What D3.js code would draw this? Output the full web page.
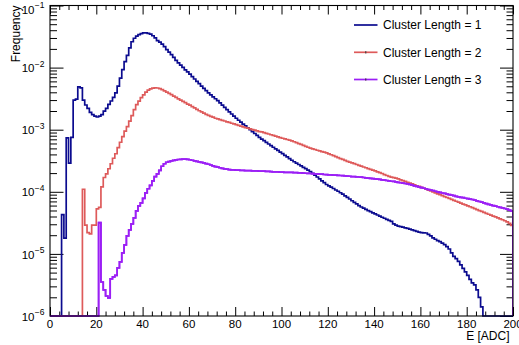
<!DOCTYPE html>
<html><head><meta charset="utf-8">
<script src="https://cdn.jsdelivr.net/npm/d3@7"></script>
<style>body{margin:0;background:#fff}svg text{font-family:"Liberation Sans",Arial,Helvetica,sans-serif;fill:#000}</style>
</head><body><svg id="c" width="519" height="345"></svg>
<script>
// ---- data (bin width 1 ADC, bins 0..199) ----
const binLowEdges = d3.range(0, 200);
const seriesNames = ["Cluster Length = 1", "Cluster Length = 2", "Cluster Length = 3"];
const seriesColors = ["#0b0b8f", "#de5a5a", "#9b1ff5"];
const cl1 = [0,0,0,0,0,4.3e-5,1.8e-5,7.4e-4,2.9e-4,7.5e-4,
3.0e-3,3.1e-3,4.9e-3,4.7e-3,3.0e-3,2.5e-3,2.2e-3,1.9e-3,1.75e-3,1.65e-3,
1.6e-3,1.65e-3,1.75e-3,1.99e-3,2.21e-3,2.55e-3,2.90e-3,3.32e-3,3.92e-3,5.03e-3,
6.78e-3,9.25e-3,1.25e-2,1.57e-2,2.08e-2,2.61e-2,2.97e-2,3.21e-2,3.40e-2,3.53e-2,
3.63e-2,3.63e-2,3.57e-2,3.46e-2,3.26e-2,3.01e-2,2.72e-2,2.58e-2,2.38e-2,2.18e-2,
1.95e-2,1.77e-2,1.62e-2,1.46e-2,1.31e-2,1.19e-2,1.10e-2,1.01e-2,9.22e-3,8.53e-3,
7.83e-3,7.16e-3,6.55e-3,6.01e-3,5.52e-3,5.05e-3,4.64e-3,4.26e-3,3.91e-3,3.64e-3,
3.38e-3,3.15e-3,2.94e-3,2.70e-3,2.48e-3,2.28e-3,2.10e-3,1.94e-3,1.79e-3,1.66e-3,
1.53e-3,1.42e-3,1.32e-3,1.23e-3,1.15e-3,1.07e-3,1.00e-3,9.31e-4,8.69e-4,8.09e-4,
7.54e-4,7.05e-4,6.65e-4,6.27e-4,5.88e-4,5.54e-4,5.22e-4,4.92e-4,4.64e-4,4.37e-4,
4.12e-4,3.86e-4,3.64e-4,3.42e-4,3.22e-4,3.05e-4,2.89e-4,2.75e-4,2.62e-4,2.48e-4,
2.36e-4,2.24e-4,2.12e-4,1.98e-4,1.85e-4,1.73e-4,1.61e-4,1.50e-4,1.41e-4,1.31e-4,
1.25e-4,1.19e-4,1.13e-4,1.07e-4,1.02e-4,9.66e-5,9.18e-5,8.61e-5,8.12e-5,7.66e-5,
7.18e-5,6.77e-5,6.39e-5,5.99e-5,5.69e-5,5.46e-5,5.22e-5,4.99e-5,4.80e-5,4.58e-5,
4.40e-5,4.23e-5,4.06e-5,3.89e-5,3.75e-5,3.60e-5,3.46e-5,3.33e-5,3.05e-5,2.90e-5,
2.81e-5,2.75e-5,2.69e-5,2.63e-5,2.57e-5,2.51e-5,2.44e-5,2.37e-5,2.31e-5,2.24e-5,
2.20e-5,2.18e-5,2.17e-5,2.06e-5,1.95e-5,1.81e-5,1.72e-5,1.64e-5,1.58e-5,1.49e-5,
1.41e-5,1.31e-5,1.20e-5,1.04e-5,9.12e-6,8.37e-6,7.57e-6,6.65e-6,5.84e-6,5.13e-6,
4.50e-6,3.88e-6,3.41e-6,3.16e-6,2.63e-6,1.99e-6,1.40e-6,0,0,0,
0,0,0,0,0,0,0,0,0,0];
const cl2 = [0,0,0,0,0,0,0,0,0,0,
0,0,0,0,1.1e-4,2.9e-5,2.2e-5,2.1e-5,2.9e-5,2.9e-5,
5.3e-5,5.6e-5,1.2e-4,1.7e-4,1.95e-4,2.35e-4,2.83e-4,3.47e-4,4.10e-4,5.13e-4,
6.28e-4,7.71e-4,9.46e-4,1.12e-3,1.37e-3,1.68e-3,2.10e-3,2.53e-3,2.88e-3,3.28e-3,
3.63e-3,4.03e-3,4.34e-3,4.55e-3,4.67e-3,4.72e-3,4.69e-3,4.60e-3,4.42e-3,4.21e-3,
4.03e-3,3.84e-3,3.66e-3,3.48e-3,3.31e-3,3.14e-3,2.99e-3,2.85e-3,2.72e-3,2.59e-3,
2.48e-3,2.35e-3,2.24e-3,2.12e-3,2.02e-3,1.94e-3,1.85e-3,1.77e-3,1.70e-3,1.64e-3,
1.59e-3,1.53e-3,1.49e-3,1.45e-3,1.41e-3,1.38e-3,1.34e-3,1.31e-3,1.27e-3,1.24e-3,
1.21e-3,1.17e-3,1.14e-3,1.11e-3,1.08e-3,1.06e-3,1.03e-3,1.00e-3,9.82e-4,9.57e-4,
9.31e-4,9.22e-4,8.98e-4,8.75e-4,8.53e-4,8.30e-4,8.12e-4,7.88e-4,7.68e-4,7.48e-4,
7.29e-4,7.11e-4,6.95e-4,6.78e-4,6.60e-4,6.40e-4,6.19e-4,5.98e-4,5.79e-4,5.60e-4,
5.40e-4,5.22e-4,5.05e-4,4.92e-4,4.80e-4,4.67e-4,4.55e-4,4.43e-4,4.34e-4,4.23e-4,
4.08e-4,3.95e-4,3.82e-4,3.68e-4,3.56e-4,3.43e-4,3.32e-4,3.21e-4,3.10e-4,3.01e-4,
2.92e-4,2.84e-4,2.75e-4,2.67e-4,2.59e-4,2.51e-4,2.44e-4,2.37e-4,2.30e-4,2.24e-4,
2.17e-4,2.10e-4,2.03e-4,1.97e-4,1.89e-4,1.83e-4,1.77e-4,1.72e-4,1.69e-4,1.66e-4,
1.61e-4,1.56e-4,1.51e-4,1.47e-4,1.42e-4,1.38e-4,1.34e-4,1.29e-4,1.25e-4,1.22e-4,
1.18e-4,1.14e-4,1.10e-4,1.06e-4,1.03e-4,9.93e-5,9.60e-5,9.29e-5,8.98e-5,8.65e-5,
8.37e-5,8.09e-5,7.83e-5,7.54e-5,7.29e-5,7.05e-5,6.82e-5,6.59e-5,6.35e-5,6.15e-5,
5.94e-5,5.75e-5,5.55e-5,5.36e-5,5.16e-5,4.99e-5,4.83e-5,4.67e-5,4.50e-5,4.35e-5,
4.21e-5,4.07e-5,3.94e-5,3.79e-5,3.67e-5,3.55e-5,3.42e-5,3.28e-5,3.10e-5,2.88e-5];
const cl3 = [0,0,0,0,0,0,0,0,0,0,
0,0,0,0,0,0,0,0,0,0,
0,3.2e-5,3.53e-6,2.63e-6,2.10e-6,1.95e-6,3.95e-6,4.26e-6,4.50e-6,5.94e-6,
7.43e-6,1.04e-5,1.40e-5,1.95e-5,2.44e-5,3.05e-5,3.81e-5,4.94e-5,5.94e-5,6.65e-5,
7.86e-5,9.64e-5,1.12e-4,1.27e-4,1.50e-4,1.75e-4,1.95e-4,2.22e-4,2.58e-4,2.83e-4,
2.99e-4,3.07e-4,3.14e-4,3.21e-4,3.27e-4,3.31e-4,3.33e-4,3.36e-4,3.36e-4,3.33e-4,
3.28e-4,3.22e-4,3.15e-4,3.09e-4,3.03e-4,2.98e-4,2.92e-4,2.85e-4,2.78e-4,2.70e-4,
2.62e-4,2.55e-4,2.49e-4,2.44e-4,2.38e-4,2.34e-4,2.31e-4,2.28e-4,2.26e-4,2.25e-4,
2.24e-4,2.23e-4,2.22e-4,2.21e-4,2.20e-4,2.20e-4,2.19e-4,2.18e-4,2.17e-4,2.17e-4,
2.16e-4,2.15e-4,2.15e-4,2.13e-4,2.13e-4,2.12e-4,2.10e-4,2.09e-4,2.09e-4,2.08e-4,
2.07e-4,2.06e-4,2.06e-4,2.05e-4,2.05e-4,2.04e-4,2.03e-4,2.02e-4,2.01e-4,2.00e-4,
1.99e-4,1.98e-4,1.97e-4,1.96e-4,1.95e-4,1.94e-4,1.93e-4,1.92e-4,1.90e-4,1.89e-4,
1.88e-4,1.87e-4,1.86e-4,1.85e-4,1.84e-4,1.83e-4,1.82e-4,1.80e-4,1.79e-4,1.78e-4,
1.76e-4,1.76e-4,1.74e-4,1.73e-4,1.72e-4,1.70e-4,1.68e-4,1.66e-4,1.65e-4,1.63e-4,
1.61e-4,1.60e-4,1.58e-4,1.56e-4,1.54e-4,1.52e-4,1.50e-4,1.48e-4,1.47e-4,1.45e-4,
1.42e-4,1.40e-4,1.38e-4,1.36e-4,1.34e-4,1.31e-4,1.28e-4,1.25e-4,1.22e-4,1.19e-4,
1.17e-4,1.14e-4,1.12e-4,1.09e-4,1.07e-4,1.05e-4,1.02e-4,1.00e-4,9.78e-5,9.57e-5,
9.40e-5,9.18e-5,9.01e-5,8.81e-5,8.65e-5,8.45e-5,8.30e-5,8.15e-5,8.03e-5,7.88e-5,
7.76e-5,7.62e-5,7.51e-5,7.35e-5,7.16e-5,6.98e-5,6.80e-5,6.62e-5,6.46e-5,6.28e-5,
6.15e-5,6.01e-5,5.88e-5,5.75e-5,5.62e-5,5.50e-5,5.38e-5,5.26e-5,5.07e-5,4.89e-5];
const xTickLabels = [0,20,40,60,80,100,120,140,160,180,200];
const yTickExponents = [-6,-5,-4,-3,-2,-1];
const xTitle = "E [ADC]";
const yTitle = "Frequency";

// ---- layout ----
const F = {l:50, r:513, t:5.5, b:316};
const svg = d3.select("#c");
const x = d3.scaleLinear().domain([0,200]).range([F.l, F.r]);
const y = d3.scaleLog().domain([1e-6, 1e-1]).range([F.b, F.t]);

const xMinor = d3.range(0, 201, 4).filter(v => v % 20 !== 0);
const yMinor = [];
yTickExponents.slice(0,-1).forEach(e => { for (let k=2;k<=9;k++) yMinor.push(k*Math.pow(10,e)); });
const yMajor = yTickExponents.map(e => Math.pow(10,e));

function tickGroup(axis, tx, ty){
  const g = svg.append("g").attr("transform",`translate(${tx},${ty})`).call(axis);
  g.select(".domain").remove();
  g.selectAll(".tick line").attr("stroke","#000").attr("stroke-width",1);
  g.selectAll("text").remove();
  return g;
}
// bottom
tickGroup(d3.axisBottom(x).tickValues(xTickLabels).tickSize(-9), 0, F.b);
tickGroup(d3.axisBottom(x).tickValues(xMinor).tickSize(-4.5), 0, F.b);
// top
tickGroup(d3.axisTop(x).tickValues(xTickLabels).tickSize(-9), 0, F.t);
tickGroup(d3.axisTop(x).tickValues(xMinor).tickSize(-4.5), 0, F.t);
// left
tickGroup(d3.axisLeft(y).tickValues(yMajor).tickSize(-13.5), F.l, 0);
tickGroup(d3.axisLeft(y).tickValues(yMinor).tickSize(-7), F.l, 0);
// right
tickGroup(d3.axisRight(y).tickValues(yMajor).tickSize(-13), F.r, 0);
tickGroup(d3.axisRight(y).tickValues(yMinor).tickSize(-6.5), F.r, 0);

// x tick labels
svg.append("g").selectAll("text").data(xTickLabels).join("text")
  .attr("x", d => x(d)).attr("y", F.b + 11.5)
  .attr("text-anchor","middle").attr("font-size", 11.5).text(d => d);
// y tick labels 10^n (the top one is nudged down to stay on the canvas, as in the reference)
const labelY = d => y(Math.pow(10,d)) + (d === -1 ? 3.6 : 0);
svg.append("g").selectAll("text").data(yTickExponents).join("text")
  .attr("x", 34.5).attr("y", d => labelY(d) + 4.6)
  .attr("text-anchor","end").attr("font-size", 11.5).text("10");
svg.append("g").selectAll("text").data(yTickExponents).join("text")
  .attr("x", 34.8).attr("y", d => labelY(d) - 1)
  .attr("font-size", 8.5).text(d => "\u2212" + Math.abs(d));

// titles
svg.append("text").attr("x", F.r - 3.5).attr("y", 339.5).attr("text-anchor","end")
  .attr("font-size", 12).text(xTitle);
svg.append("text").attr("transform", `translate(20,${F.t}) rotate(-90)`)
  .attr("text-anchor","end").attr("font-size", 12).text(yTitle);

// ---- histograms ----
svg.append("defs").append("clipPath").attr("id","clip").append("rect")
  .attr("x", F.l).attr("y", F.t).attr("width", F.r - F.l).attr("height", F.b - F.t + 1);
const yv = v => v > 1e-6 ? y(v) : y(1e-6);
function stepPoints(vals){
  const pts = [[x(binLowEdges[0]), y(1e-6)]];
  vals.forEach((v,i) => { pts.push([x(binLowEdges[i]), yv(v)]); pts.push([x(binLowEdges[i]+1), yv(v)]); });
  pts.push([x(200), y(1e-6)]);
  return pts;
}
const line = d3.line();
const hg = svg.append("g").attr("clip-path","url(#clip)");
[cl1, cl2, cl3].forEach((s, k) => {
  hg.append("path").attr("d", line(stepPoints(s))).attr("fill","none")
    .attr("stroke", seriesColors[k]).attr("stroke-width", 1.7).attr("stroke-linejoin","miter");
});

// frame
svg.append("rect").attr("x", F.l).attr("y", F.t).attr("width", F.r - F.l).attr("height", F.b - F.t)
  .attr("fill","none").attr("stroke","#000").attr("stroke-width",1.1);
// zero bins lie on the bottom axis and are drawn over it, as in the reference
hg.append("path").attr("d", line(stepPoints(cl3))).attr("fill","none")
  .attr("stroke", seriesColors[2]).attr("stroke-width", 1.7);

// ---- legend ----
const legendRows = [25, 52.3, 79.5];
const lg = svg.append("g");
seriesNames.forEach((n, k) => {
  lg.append("line").attr("x1", 354).attr("x2", 377.5).attr("y1", legendRows[k]).attr("y2", legendRows[k])
    .attr("stroke", seriesColors[k]).attr("stroke-width", 1.7);
  if (k > 0) lg.append("line").attr("x1", 365.8).attr("x2", 365.8).attr("y1", legendRows[k]-1.2).attr("y2", legendRows[k]+1.2)
    .attr("stroke", "#333").attr("stroke-width", 1);
  lg.append("text").attr("x", 383).attr("y", legendRows[k] + 4.4).attr("font-size", 12).text(n);
});
</script></body></html>
